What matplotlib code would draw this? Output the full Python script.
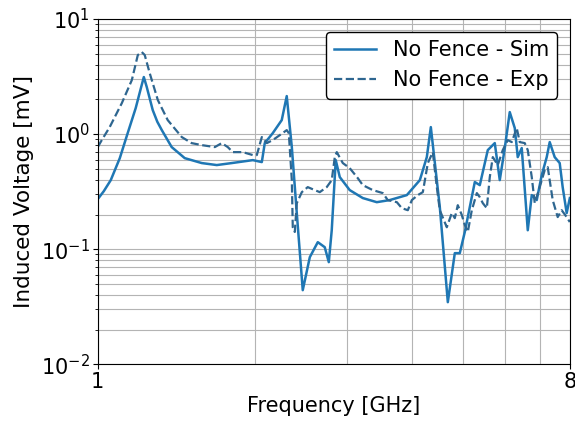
import matplotlib
matplotlib.use("Agg")
import matplotlib.pyplot as plt
from matplotlib.ticker import FixedLocator, NullFormatter, FixedFormatter, LogLocator

# Simulated induced voltage (no fence)
sim_freq = [1.000, 1.027, 1.059, 1.102, 1.141, 1.182, 1.208, 1.225, 1.241, 1.274,
            1.300, 1.326, 1.385, 1.467, 1.581, 1.689, 1.805, 1.980, 2.060, 2.087, 2.162,
            2.249, 2.299, 2.351, 2.403, 2.467, 2.545, 2.636, 2.718, 2.767, 2.803,
            2.853, 2.904, 3.034, 3.214, 3.418, 3.619, 3.902, 4.132, 4.261, 4.337,
            4.512, 4.674, 4.820, 4.927, 5.037, 5.149, 5.264, 5.381, 5.574, 5.748,
            5.876, 6.007, 6.140, 6.277, 6.360, 6.473, 6.647, 6.765, 6.915, 7.069,
            7.226, 7.322, 7.484, 7.651, 7.752, 7.890, 8.000]
sim_mv = [0.272, 0.319, 0.398, 0.618, 1.020, 1.683, 2.462, 3.131, 2.563, 1.617,
          1.280, 1.083, 0.771, 0.618, 0.560, 0.538, 0.560, 0.594, 0.571, 0.835, 1.020,
          1.323, 2.140, 0.771, 0.206, 0.0440, 0.0852, 0.115, 0.104, 0.0771, 0.146,
          0.594, 0.423, 0.326, 0.278, 0.256, 0.267, 0.295, 0.398, 0.631, 1.150,
          0.232, 0.0346, 0.0923, 0.0923, 0.141, 0.232, 0.383, 0.360, 0.726, 0.835,
          0.398, 0.756, 1.553, 1.128, 0.631, 0.756, 0.146, 0.295, 0.267, 0.440,
          0.631, 0.852, 0.631, 0.560, 0.346, 0.206, 0.278]

# Measured induced voltage (no fence)
exp_freq = [1.000, 1.018, 1.054, 1.112, 1.162, 1.193, 1.214, 1.230, 1.257, 1.303,
            1.361, 1.448, 1.512, 1.581, 1.675, 1.727, 1.773, 1.813, 1.894, 1.980,
            2.015, 2.060, 2.106, 2.162, 2.230, 2.299, 2.320, 2.351, 2.361, 2.382,
            2.403, 2.457, 2.522, 2.601, 2.659, 2.742, 2.803, 2.841, 2.866, 2.943,
            3.034, 3.144, 3.214, 3.358, 3.510, 3.588, 3.734, 3.817, 3.919, 3.989,
            4.096, 4.187, 4.280, 4.375, 4.453, 4.512, 4.653, 4.757, 4.820, 4.884,
            4.971, 5.037, 5.104, 5.195, 5.311, 5.381, 5.453, 5.550, 5.623, 5.698,
            5.824, 5.954, 6.086, 6.194, 6.332, 6.416, 6.559, 6.647, 6.765, 6.855,
            7.007, 7.162, 7.258, 7.419, 7.584, 7.718, 7.890, 8.000]
exp_mv = [0.771, 0.887, 1.150, 1.860, 2.948, 4.864, 5.164, 4.864, 3.392, 1.975,
          1.323, 0.942, 0.835, 0.802, 0.771, 0.835, 0.771, 0.697, 0.697, 0.657,
          0.657, 0.942, 0.835, 0.887, 0.980, 1.083, 1.020, 0.398, 0.155, 0.141,
          0.251, 0.313, 0.346, 0.326, 0.313, 0.346, 0.398, 0.631, 0.697, 0.560,
          0.506, 0.414, 0.360, 0.326, 0.307, 0.267, 0.256, 0.227, 0.218, 0.267,
          0.295, 0.313, 0.560, 0.697, 0.346, 0.218, 0.155, 0.206, 0.186, 0.241,
          0.198, 0.162, 0.141, 0.218, 0.307, 0.283, 0.251, 0.227, 0.423, 0.631,
          0.538, 0.726, 0.887, 0.852, 1.128, 0.852, 0.835, 0.726, 0.423, 0.251,
          0.346, 0.486, 0.516, 0.267, 0.190, 0.218, 0.190, 0.172]

x_major = [1, 8]
x_major_labels = ["1", "8"]
x_minor = [2, 3, 4, 5, 6, 7]

fig = plt.figure(figsize=(5.75, 4.23), dpi=100)
ax = fig.add_axes([0.170, 0.139, 0.821, 0.816])

ax.plot(sim_freq, sim_mv, color="#1f77b4", lw=1.8, label="No Fence - Sim")
ax.plot(exp_freq, exp_mv, color="#2e6690", lw=1.6, ls="--", label="No Fence - Exp")

ax.set_xscale("log")
ax.set_yscale("log")
ax.set_xlim(1, 8)
ax.set_ylim(1e-2, 1e1)

ax.xaxis.set_major_locator(FixedLocator(x_major))
ax.xaxis.set_major_formatter(FixedFormatter(x_major_labels))
ax.xaxis.set_minor_locator(FixedLocator(x_minor))
ax.xaxis.set_minor_formatter(NullFormatter())
ax.yaxis.set_major_locator(LogLocator(base=10, numticks=10))
ax.yaxis.set_minor_locator(LogLocator(base=10, subs=range(2, 10), numticks=20))

ax.grid(True, which="both", color="#b4b4b4", lw=0.8)
ax.tick_params(axis="both", which="major", labelsize=15, length=3.5, pad=2)
ax.tick_params(axis="x", which="minor", length=0)
ax.tick_params(axis="y", which="minor", length=2.5)

ax.set_xlabel("Frequency [GHz]", fontsize=15, labelpad=3)
ax.set_ylabel("Induced Voltage [mV]", fontsize=15.5, labelpad=5)

leg = ax.legend(loc="upper right", fontsize=15, framealpha=1.0,
                edgecolor="black", fancybox=True, borderaxespad=0.6)
leg.get_frame().set_linewidth(1.0)

fig.savefig("out.png", dpi=100)
